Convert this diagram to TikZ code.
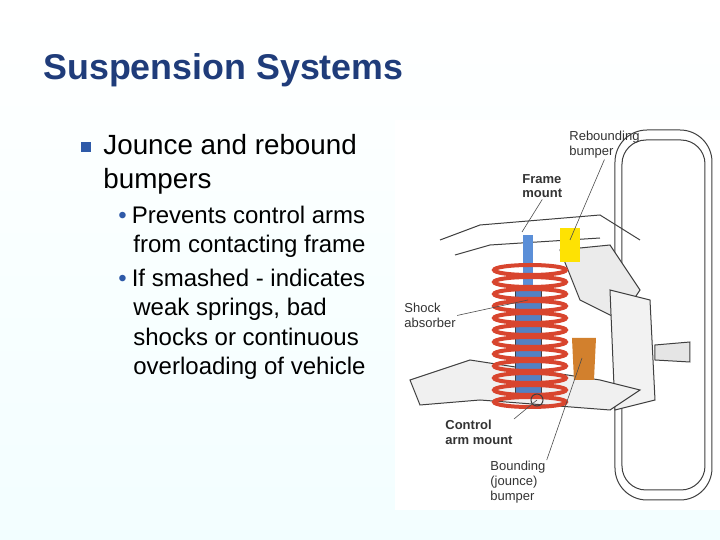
\documentclass[tikz,border=0pt]{standalone}
\usepackage{fontspec}
\setmainfont{Liberation Sans}
\usetikzlibrary{positioning,shapes.geometric}
\definecolor{titleblue}{HTML}{1F3C7A}
\definecolor{bulletblue}{HTML}{2E5AA8}
\definecolor{springred}{HTML}{D8452E}
\definecolor{shockblue}{HTML}{5B8FD8}
\tikzset{
  lbl/.style={font=\fontsize{6.5}{7.3}\selectfont, align=left, inner sep=0.5pt, text=black!80},
  lead/.style={black!70, line width=0.3pt},
  part/.style={black!75, line width=0.5pt},
}
\begin{document}
\begin{tikzpicture}[x=0.5pt,y=-0.5pt]
\useasboundingbox (0,0) rectangle (720,540);
\shade[top color=white, bottom color=blue!6!cyan!5] (0,0) rectangle (720,540);

% title and text
\node[anchor=west, font=\fontsize{17.9}{20}\bfseries\selectfont, text=titleblue, inner sep=0pt] (title) at (43,70) {Suspension Systems};
\fill[bulletblue] (81,142) rectangle (91,152);
\node[anchor=north west, align=left, font=\fontsize{13.9}{16.8}\selectfont, inner sep=0pt] (t1) at (103,134) {Jounce and rebound\\bumpers};
\node[anchor=north west, align=left, font=\fontsize{12}{14.6}\selectfont, inner sep=0pt] (t2) at (118,206) {\textcolor{bulletblue}{•}\hspace{2.5pt}Prevents control arms\\\hspace{7.5pt}from contacting frame};
\node[anchor=north west, align=left, font=\fontsize{12}{14.6}\selectfont, inner sep=0pt] (t3) at (118,269) {\textcolor{bulletblue}{•}\hspace{2.5pt}If smashed - indicates\\\hspace{7.5pt}weak springs, bad\\\hspace{7.5pt}shocks or continuous\\\hspace{7.5pt}overloading of vehicle};

% illustration
\fill[white] (395,120) rectangle (720,510);
% wheel
\draw[part, rounded corners=16] (615,130) rectangle (712,500);
\draw[part, rounded corners=12] (622,140) rectangle (705,490);
% frame and upper arm
\draw[part] (440,240) -- (480,225) -- (600,215) -- (640,240);
\draw[part] (455,255) -- (490,245) -- (600,238);
\draw[part, fill=black!8] (560,250) -- (610,245) -- (640,290) -- (620,320) -- (580,300) -- cycle;
% knuckle and spindle
\draw[part, fill=black!5] (610,290) -- (650,300) -- (655,400) -- (615,410) -- cycle;
\draw[part, fill=black!10] (655,345) -- (690,342) -- (690,362) -- (655,360) -- cycle;
% lower control arm
\draw[part, fill=black!6] (410,380) -- (470,360) -- (600,380) -- (640,390) -- (610,410) -- (480,400) -- (420,405) -- cycle;
% shock absorber
\fill[shockblue] (523,235) rectangle (533,295);
\fill[shockblue!90!black] (516,290) rectangle (542,395);
\draw[part] (516,290) rectangle (542,395);
% spring
\foreach \y in {270,282,...,402}
  \draw[springred, line width=2pt] (530,\y) ellipse (36 and 5);
% bumpers
\fill[yellow!85!orange] (560,228) rectangle (580,262);
\fill[brown!70!orange] (572,338) -- (596,338) -- (594,380) -- (574,380) -- cycle;
\draw[part] (537,400) circle (6);

% labels
\node[lbl, anchor=north west] (rb) at (568,130) {Rebounding\\bumper};
\node[lbl, anchor=north west, font=\fontsize{6.5}{7.3}\bfseries\selectfont] (fm) at (521,173) {Frame\\mount};
\node[lbl, anchor=north west] (sa) at (403,302) {Shock\\absorber};
\node[lbl, anchor=north west, font=\fontsize{6.5}{7.3}\bfseries\selectfont] (cm) at (444,419) {Control\\arm mount};
\node[lbl, anchor=north west] (jb) at (489,460) {Bounding\\(jounce)\\bumper};
\coordinate (rbend) at (570,240);
\coordinate (fmend) at (522,232);
\coordinate (saend) at (528,300);
\coordinate (cmend) at (537,400);
\coordinate (jbend) at (582,358);
\draw[lead] (rb.south) -- (rbend);
\draw[lead] (fm.south) -- (fmend);
\draw[lead] (sa.east) -- (saend);
\draw[lead] (cm.north east) -- (cmend);
\draw[lead] (jb.north east) -- (jbend);
\end{tikzpicture}
\end{document}
